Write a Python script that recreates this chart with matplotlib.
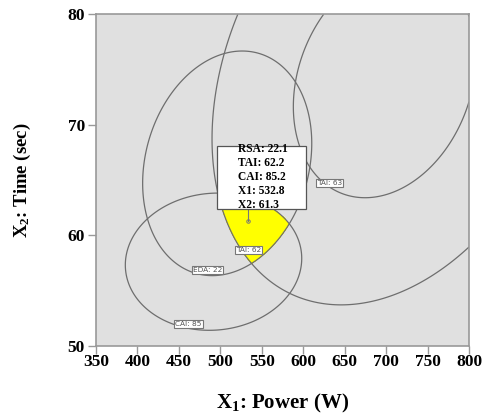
import numpy as np
import matplotlib.pyplot as plt
from matplotlib.patches import Rectangle

plt.rcParams['font.family'] = ['Liberation Serif', 'DejaVu Serif']
plt.rcParams['mathtext.fontset'] = 'custom'
plt.rcParams['mathtext.rm'] = 'Liberation Serif:bold'
plt.rcParams['mathtext.it'] = 'Liberation Serif:bold'
plt.rcParams['mathtext.bf'] = 'Liberation Serif:bold'

# constraint contours: (name, level, W0, T0, a, b, shear)
# W = W0 + a*cos(t), T = T0 + b*sin(t) + shear*cos(t)
names = ['EDA', 'CAI', 'TAI', 'TAI']
levels = [22, 85, 62, 63]
W0 = [508.3, 491.8, 710.0, 698.1]
T0 = [66.5, 57.6, 74.91, 73.86]
A = [102.0, 106.4, 220.0, 110.0]
B = [10.0, 6.2, 20.29, 10.23]
S = [1.8, 0.3, 6.2, 2.235]

# where each contour gets its value tag
tag_x = [484.3, 461.8, 533.8, 631.6]
tag_y = [56.85, 51.96, 58.66, 64.74]

# optimum point and its flag
opt_x, opt_y = 532.8, 61.3
opt_text = ['RSA: 22.1', 'TAI: 62.2', 'CAI: 85.2', 'X1: 532.8', 'X2: 61.3']
flag_box = (496.3, 62.35, 107.0, 5.7)   # x, y, width, height in data units

xticks = [350, 400, 450, 500, 550, 600, 650, 700, 750, 800]
yticks = [50, 60, 70, 80]


def ellipse_F(W, T, i):
    c = (W - W0[i]) / A[i]
    s = (T - T0[i] - S[i] * c) / B[i]
    return c**2 + s**2


fig = plt.figure(figsize=(4.86, 4.15), dpi=100)
ax = fig.add_axes([0.1975, 0.167, 0.7675, 0.799])
ax.set_facecolor('#e0e0e0')

w = np.linspace(350, 800, 900)
t = np.linspace(50, 80, 900)
WW, TT = np.meshgrid(w, t)
F = [ellipse_F(WW, TT, i) for i in range(4)]

# feasible window: inside EDA, CAI, TAI 62 and outside TAI 63
G = np.maximum.reduce([F[0], F[1], F[2], 2 - F[3]])
ax.contourf(WW, TT, G, levels=[0, 1], colors=['#ffff00'], zorder=1)

for i in range(4):
    ax.contour(WW, TT, F[i], levels=[1], colors='#6e6e6e', linewidths=0.9,
               zorder=2)
    ax.text(tag_x[i], tag_y[i], '%s: %d' % (names[i], levels[i]),
            fontsize=5.3, family='DejaVu Sans', color='#555555',
            ha='center', va='center', zorder=4,
            bbox=dict(boxstyle='square,pad=0.15', fc='white', ec='#777777',
                      lw=0.8))

# flag at the optimum
bx, by, bw, bh = flag_box
ax.plot([opt_x, opt_x], [opt_y, by], color='#777777', lw=0.8, zorder=3)
ax.plot(opt_x, opt_y, 'o', ms=2.5, mfc='none', mec='#777777', mew=0.7,
        zorder=3)
ax.add_patch(Rectangle((bx, by), bw, bh, fc='white', ec='#555555', lw=0.9,
                       zorder=5))
ax.text(bx + 25, by + bh / 2 + 0.1, '\n'.join(opt_text), fontsize=8.3,
        fontweight='bold', ha='left', va='center', linespacing=1.22,
        zorder=6)

ax.set_xlim(350, 800)
ax.set_ylim(50, 80)
ax.set_xticks(xticks)
ax.set_yticks(yticks)
ax.tick_params(direction='out', length=6, width=1.0, color='#999999',
               labelsize=12.5)
ax.tick_params(axis='x', pad=0)
ax.tick_params(axis='y', pad=2)
for lab in ax.get_xticklabels() + ax.get_yticklabels():
    lab.set_fontweight('bold')
for sp in ax.spines.values():
    sp.set_color('#999999')
    sp.set_linewidth(1.2)

ax.set_xlabel('X$_1$: Power (W)', fontsize=15, fontweight='bold', labelpad=16)
ax.set_ylabel('X$_2$: Time (sec)', fontsize=13.5, fontweight='bold',
              labelpad=25)

fig.savefig('out.png', dpi=100, facecolor='white')
